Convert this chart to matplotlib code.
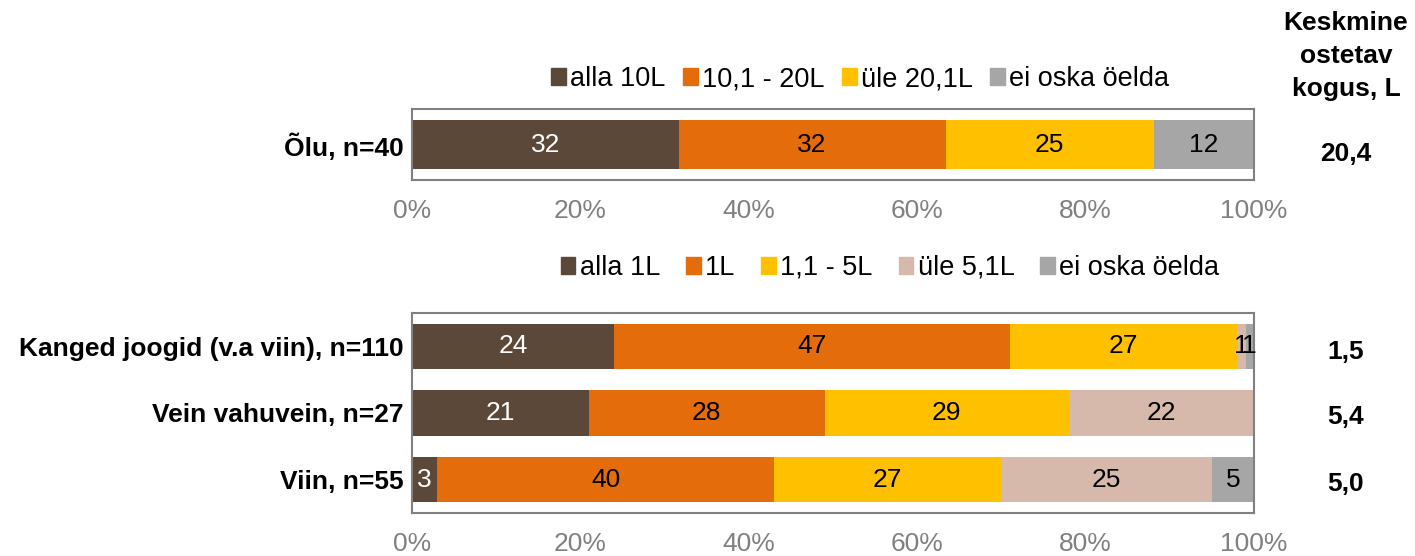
import numpy as np
import matplotlib.pyplot as plt
from matplotlib.patches import Patch

plt.rcParams['font.family'] = ['Liberation Sans', 'DejaVu Sans']

# andmed
olu_label = "Õlu, n=40"
olu_cats = ["alla 10L", "10,1 - 20L", "üle 20,1L", "ei oska öelda"]
olu_vals = [32, 32, 25, 12]
olu_mean = "20,4"

muu_labels = ["Kanged joogid (v.a viin), n=110", "Vein vahuvein, n=27", "Viin, n=55"]
muu_cats = ["alla 1L", "1L", "1,1 - 5L", "üle 5,1L", "ei oska öelda"]
muu_vals = [
    [24, 47, 27, 1, 1],
    [21, 28, 29, 22, 0],
    [3, 40, 27, 25, 5],
]
muu_means = ["1,5", "5,4", "5,0"]

c_brown = "#5C4838"
c_orange = "#E46C0A"
c_yellow = "#FFC000"
c_pink = "#D7B9AC"
c_grey = "#A6A6A6"
olu_colors = [c_brown, c_orange, c_yellow, c_grey]
muu_colors = [c_brown, c_orange, c_yellow, c_pink, c_grey]

FS = 19
W, H = 1415, 556
fig = plt.figure(figsize=(W / 100, H / 100), dpi=100)


def px_axes(x0, y0, x1, y1):
    return fig.add_axes([x0 / W, 1 - y1 / H, (x1 - x0) / W, (y1 - y0) / H])


def style(ax):
    ax.set_xlim(0, 100)
    ax.set_xticks(np.arange(0, 101, 20))
    ax.set_xticklabels([f"{t}%" for t in range(0, 101, 20)])
    ax.tick_params(axis="x", length=0, pad=14, labelsize=FS, labelcolor="#808080")
    ax.tick_params(axis="y", length=0, pad=6)
    for s in ax.spines.values():
        s.set_color("#808080")
        s.set_linewidth(1.5)
    for lab in ax.get_yticklabels():
        lab.set_fontweight("bold")
        lab.set_fontsize(FS)


def draw_row(ax, y, vals, colors, h):
    vals = np.array(vals, dtype=float)
    pct = vals / vals.sum() * 100
    left = 0
    for v, p, c in zip(vals, pct, colors):
        if v > 0:
            ax.barh(y, p, left=left, color=c, height=h, edgecolor="none")
            tc = "white" if c == c_brown else "black"
            ax.text(left + p / 2, y, f"{int(v)}", ha="center", va="center",
                    fontsize=FS, color=tc)
        left += p


# Õlu
ax1 = px_axes(412, 109, 1254, 180)
draw_row(ax1, 0, olu_vals, olu_colors, 0.68)
ax1.set_ylim(-0.5, 0.5)
ax1.set_yticks([0])
ax1.set_yticklabels([olu_label])
style(ax1)

# muud joogid
ax2 = px_axes(412, 313, 1254, 513)
ys = np.arange(len(muu_labels))[::-1]
for y, vals in zip(ys, muu_vals):
    draw_row(ax2, y, vals, muu_colors, 0.68)
ax2.set_ylim(-0.5, len(muu_labels) - 0.5)
ax2.set_yticks(ys)
ax2.set_yticklabels(muu_labels)
style(ax2)

# legendid
leg_kw = dict(frameon=False, fontsize=19.5, handlelength=0.55, handleheight=0.55,
              handletextpad=0.15, borderaxespad=0)
fig.legend([Patch(color=c) for c in olu_colors], olu_cats, ncol=len(olu_cats),
           loc="center", bbox_to_anchor=(860 / W, 1 - 79 / H), columnspacing=0.65, **leg_kw)
fig.legend([Patch(color=c) for c in muu_colors], muu_cats, ncol=len(muu_cats),
           loc="center", bbox_to_anchor=(890 / W, 1 - 268 / H), columnspacing=0.96, **leg_kw)

# keskmine kogus
fig.text(1346 / W, 1 - 56 / H, "Keskmine\nostetav\nkogus, L", ha="center", va="center",
         fontsize=FS, fontweight="bold", linespacing=1.45)
fig.text(1346 / W, 1 - 154 / H, olu_mean, ha="center", va="center",
         fontsize=FS, fontweight="bold")
for y, m in zip([352, 417, 484], muu_means):
    fig.text(1346 / W, 1 - y / H, m, ha="center", va="center",
             fontsize=FS, fontweight="bold")

fig.savefig("out.png", dpi=100)
